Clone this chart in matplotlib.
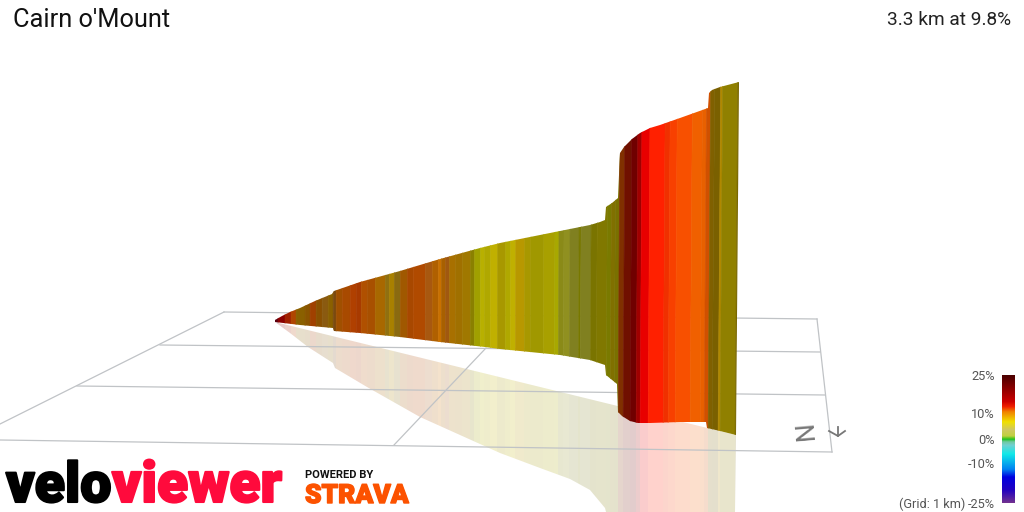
#!/usr/bin/env python3
# Cairn o'Mount climb, redrawn from the picture (all positions are picture pixels)
import numpy as np
import matplotlib
matplotlib.use("Agg")
import matplotlib.pyplot as plt
import matplotlib.patheffects as pe
from matplotlib.collections import PolyCollection
from matplotlib.colors import LinearSegmentedColormap
from matplotlib.patches import Polygon

plt.rcParams["font.family"] = ["Roboto", "DejaVu Sans"]

title = "Cairn o'Mount"
summary = "3.3 km at 9.8%"
grid_note = "(Grid: 1 km)"

# upper edge of the wall
top_x = [275, 282, 290, 300, 315, 332, 334, 360, 400, 440, 480, 500, 550, 590, 600, 605, 606, 612, 618,
         619, 620, 624, 632, 640, 650, 660, 680, 708, 709, 712, 720, 739]
top_y = [320, 316, 312, 308, 301, 294, 291, 282, 271, 259, 248, 243, 233, 225, 222, 220, 207, 203, 198,
         175, 153, 147, 139, 133, 128, 125, 118, 108, 93, 90, 87, 82]

# lower edge of the wall
base_x = [736, 720, 707, 706, 680, 650, 638, 630, 622, 618, 617, 606, 605, 590, 560, 500, 485, 440, 400,
          360, 334, 333, 300, 275]
base_y = [435, 431, 428, 422, 422, 423, 423, 421, 416, 412, 384, 375, 365, 360, 355, 349, 347, 342, 337,
          333, 331, 328, 325, 322]

# outer edge of the floor reflection
shadow_x = [275, 290, 308, 333, 335, 367, 420, 500, 540, 570, 590, 605, 606, 735, 736]
shadow_y = [322, 333, 347, 363, 368, 387, 417, 453, 468, 479, 490, 508, 512, 512, 435]

# gradient bands along the wall
band_edges = [275, 278, 285, 291, 296, 305, 310, 316, 322, 328, 333, 336, 342, 350, 356, 361, 367, 375,
              385, 389, 394, 400, 407, 413, 425, 432, 438, 441, 445, 449, 455, 462, 470, 474, 480, 484,
              490, 497, 505, 510, 515, 524, 530, 543, 554, 558, 563, 569, 578, 580, 590, 596, 606, 610,
              614, 618, 623, 630, 636, 640, 648, 663, 668, 675, 690, 700, 704, 708, 712, 718, 720, 735,
              737]
band_colors = ["#5a0010", "#8a0000", "#a02000", "#b04500", "#8a6000", "#8a5500", "#a04000", "#8a5000",
               "#8a5a10", "#8a6000", "#7a4a10", "#a05000", "#a84a00", "#b04000", "#a83a00", "#b05000",
               "#a85000", "#a86800", "#907010", "#a88000", "#8a6a10", "#a05800", "#a84800", "#b04a00",
               "#a85810", "#b06000", "#c87000", "#a86000", "#a05810", "#a87000", "#a07000", "#a07800",
               "#8a8000", "#a0a000", "#b8b000", "#b0a800", "#c0b000", "#a89800", "#b0a800", "#c0b000",
               "#b89800", "#a89800", "#a09800", "#a8a000", "#a8a800", "#8a8a18", "#909020", "#808020",
               "#787800", "#808020", "#7a7400", "#807800", "#7a7a00", "#807000", "#7a7000", "#803000",
               "#701000", "#700000", "#a00000", "#e80000", "#ff2000", "#f03000", "#f84000", "#f85000",
               "#f06000", "#e86000", "#d05000", "#806000", "#7a6000", "#b08800", "#908000", "#7a6800"]

# floor grid
grid_x0 = [224, 160, 77, 0, 0, 486, 817]
grid_y0 = [312, 345, 386, 440, 424, 348, 319]
grid_x1 = [817, 820, 825, 832, 224, 394, 832]
grid_y1 = [319, 352, 395, 452, 312, 445, 452]

# legend scale
grade_ticks = [25, 10, 0, -10, -25]
grade_stops = [-25, -20, -15, -12, -6, -2.5, -1.2, 0, 1.5, 4, 7, 11, 13, 15, 25]
grade_colors = ["#703090", "#2000c0", "#0000e0", "#0080f0", "#10e8e8", "#70d0d0", "#70c8a0", "#10c010",
                "#c0d040", "#d0c860", "#f0e000", "#f08000", "#f02000", "#cc0000", "#4d0000"]

fig = plt.figure(figsize=(10.24, 5.12), dpi=100)
ax = fig.add_axes([0, 0, 1, 1])
ax.set_xlim(0, 1024)
ax.set_ylim(512, 0)
ax.axis("off")

for x0, y0, x1, y1 in zip(grid_x0, grid_y0, grid_x1, grid_y1):
    ax.plot([x0, x1], [y0, y1], color="#c0c3c6", lw=0.9, zorder=3)

edges = np.array(band_edges, dtype=float)
lean = 3 * (edges - 275) / 464
wall_quads = [[(a + la, 60), (b + lb, 60), (b, 440), (a, 440)]
              for a, b, la, lb in zip(edges[:-1], edges[1:], lean[:-1], lean[1:])]
floor_quads = [[(a, 300), (b, 300), (b, 512), (a, 512)] for a, b in zip(edges[:-1], edges[1:])]

shadow_shape = Polygon(np.column_stack([shadow_x, shadow_y]), transform=ax.transData, fc="none", ec="none")
ax.add_patch(shadow_shape)
shadow = PolyCollection(floor_quads, facecolors=band_colors, edgecolors="none", alpha=0.2,
                        antialiased=False, zorder=2)
ax.add_collection(shadow)
shadow.set_clip_path(shadow_shape)

wall_shape = Polygon(np.column_stack([top_x + base_x, top_y + base_y]), transform=ax.transData,
                     fc="none", ec="none")
ax.add_patch(wall_shape)
wall = PolyCollection(wall_quads, facecolors=band_colors, edgecolors="face", linewidths=0.4, zorder=4)
ax.add_collection(wall)
wall.set_clip_path(wall_shape)

# north marker
ax.text(806, 430, "N", color="#777777", fontsize=19, rotation=95, ha="center", va="center", zorder=5)
ax.plot([829, 838, 845], [431, 436, 431], color="#777777", lw=1.3, zorder=5)
ax.plot([838, 838], [427, 436], color="#777777", lw=1.3, zorder=5)

# legend
cmap = LinearSegmentedColormap.from_list(
    "grade", [((g + 25) / 50, c) for g, c in zip(grade_stops, grade_colors)])
levels = np.linspace(-25, 25, 129)
ax.pcolormesh([1002, 1015], np.linspace(503, 375, 130), levels[:, None], cmap=cmap, vmin=-25, vmax=25,
              zorder=3)
for g, y in zip(grade_ticks, [376, 414, 440, 465, 504]):
    ax.text(995, y, f"{g}%", color="#555555", fontsize=9.2, ha="right", va="center")
ax.text(965, 504, grid_note, color="#555555", fontsize=9.2, ha="right", va="center")

ax.text(13, 20, title, color="#111111", fontsize=18.3, ha="left", va="center")
ax.text(1011, 20, summary, color="#222222", fontsize=13.8, ha="right", va="center")

# logos
velo = ax.text(6, 502, "velo", color="#000000", fontsize=40, fontweight="black", ha="left", va="baseline", zorder=6)
viewer = ax.text(112, 502, "viewer", color="#ff0a3c", fontsize=41, fontweight="black", ha="left", va="baseline", zorder=7)
velo.set_path_effects([pe.withStroke(linewidth=1.5, foreground="#000000")])
viewer.set_path_effects([pe.withStroke(linewidth=1.5, foreground="#ff0a3c")])
ax.text(305, 478, "POWERED BY", color="#111111", fontsize=8, fontweight="bold", ha="left", va="baseline")
strava = ax.text(305, 503, "STRAVA", color="#fc5200", fontsize=19, fontweight="black", ha="left", va="baseline")
strava.set_path_effects([pe.withStroke(linewidth=1.0, foreground="#fc5200")])

fig.savefig("out.png", dpi=100)
